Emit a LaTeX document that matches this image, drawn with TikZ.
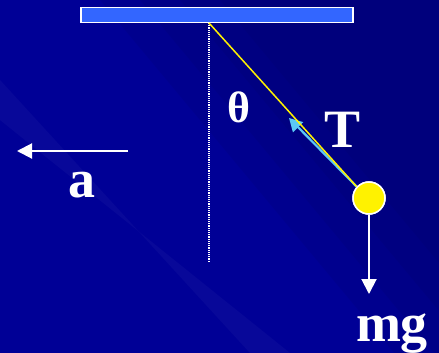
\documentclass[tikz,border=0pt]{standalone}
\usepackage{fontspec}
\setmainfont{Liberation Serif}
\usepackage{xcolor}
\usepackage{tikz}
\usetikzlibrary{arrows.meta, positioning}

\definecolor{slideblue}{RGB}{0,0,150}
\definecolor{slidedark}{RGB}{0,0,90}
\definecolor{barblue}{RGB}{51,102,255}
\definecolor{stringblue}{RGB}{90,200,245}

\begin{document}
\begin{tikzpicture}[
  x=1pt, y=-1pt,
  sym/.style={text=white, inner sep=0pt, font=\bfseries\fontsize{54}{54}\selectfont},
  force/.style={-{Triangle[length=15pt, width=15pt]}, line width=2pt, white},
  bob/.style={circle, draw=white, line width=1.5pt, fill=yellow, minimum size=32pt, inner sep=0pt}
]
% background
\useasboundingbox (0,0) rectangle (439,353);
\begin{scope}
\clip (0,0) rectangle (439,353);
\fill[slideblue] (0,0) rectangle (439,353);
\foreach \off in {100,140,180,220}
  \fill[slidedark, opacity=0.12] (\off,0) -- (439,0) -- (439,{(439-\off)*1.2}) -- cycle;
\fill[white, opacity=0.03] (0,80) -- (0,120) -- (290,353) -- (250,353) -- cycle;
\end{scope}

% support and string
\node[draw=white, line width=1.5pt, fill=barblue, minimum width=272pt, minimum height=15pt, inner sep=0pt] (bar) at (217,15) {};
\coordinate (pivot) at (209,23);
\coordinate (vbottom) at (209,262);
\node[bob] (ball) at (369,198) {};
\draw[white, densely dotted, line width=1.2pt] (pivot) -- (vbottom);

% forces
\coordinate (Ttip) at (289,118);
\coordinate (Ttail) at (357,187);
\coordinate (mgtip) at (369,294);
\coordinate (atail) at (128,151);
\coordinate (atip) at (17,151);
\draw[-{Triangle[length=13pt, width=14pt]}, line width=2.2pt, color=stringblue] (Ttail) -- (Ttip);
\draw[yellow, line width=1.5pt] (pivot) -- (Ttail);
\node[bob] at (ball) {};
\draw[force] (ball.south) -- (mgtip);
\draw[force] (atail) -- (atip);

% labels
\node[sym] (Tlab) at (343,130) {T};
\node[sym, anchor=base] (mglab) at (392,341) {mg};
\node[sym, anchor=base] (alab) at (82,197) {a};
\node[sym, anchor=base, font=\bfseries\fontsize{44}{44}\selectfont] (thlab) at (239,122) {θ};
\end{tikzpicture}
\end{document}
